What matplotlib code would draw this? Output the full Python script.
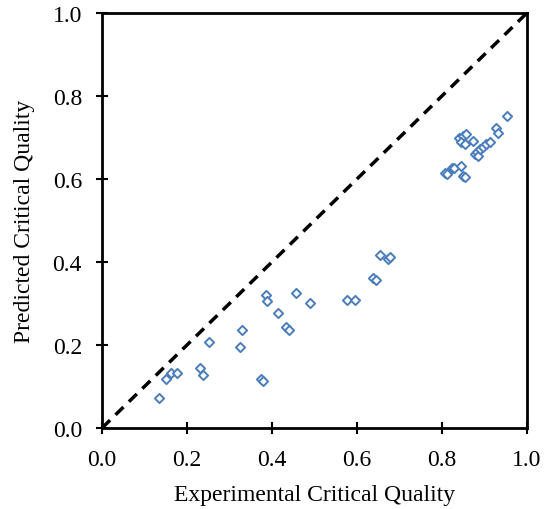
import matplotlib
matplotlib.use('Agg')
import matplotlib.pyplot as plt

# Experimental vs predicted critical quality
x_exp = [0.133, 0.150, 0.162, 0.177, 0.231, 0.237, 0.252, 0.324, 0.329, 0.373,
         0.379, 0.386, 0.389, 0.413, 0.432, 0.440, 0.456, 0.489, 0.577, 0.595,
         0.637, 0.644, 0.654, 0.674, 0.678,
         0.807, 0.811, 0.823, 0.828, 0.846, 0.850, 0.855, 0.841, 0.850, 0.856,
         0.846, 0.854, 0.874, 0.878, 0.882, 0.884, 0.889, 0.896, 0.904, 0.913,
         0.927, 0.933, 0.954]
y_pred = [0.072, 0.118, 0.133, 0.133, 0.145, 0.128, 0.208, 0.194, 0.236, 0.117,
          0.113, 0.320, 0.306, 0.278, 0.243, 0.236, 0.324, 0.301, 0.309, 0.309,
          0.361, 0.357, 0.417, 0.408, 0.412,
          0.614, 0.612, 0.626, 0.627, 0.632, 0.606, 0.604, 0.699, 0.704, 0.709,
          0.690, 0.684, 0.692, 0.660, 0.664, 0.656, 0.672, 0.676, 0.684, 0.690,
          0.722, 0.712, 0.753]
ticks = [0.0, 0.2, 0.4, 0.6, 0.8, 1.0]

plt.rcParams['font.family'] = ['Liberation Serif', 'DejaVu Serif']

fig = plt.figure(figsize=(5.46, 5.10), dpi=100)
ax = fig.add_axes([0.187, 0.159, 0.778, 0.8135])

ax.plot([0, 1], [0, 1], color='black', linestyle=(0, (3.2, 2.2)), linewidth=2.5, zorder=2)
ax.scatter(x_exp, y_pred, marker='D', s=22, facecolors='white', edgecolors='#4a7ebb',
           linewidths=1.4, zorder=3)

ax.set_xlim(0, 1)
ax.set_ylim(0, 1)
ax.set_xticks(ticks)
ax.set_yticks(ticks)
ax.set_xticklabels([f'{t:.1f}' for t in ticks])
ax.set_yticklabels([f'{t:.1f}' for t in ticks])
ax.tick_params(direction='inout', length=9, width=1.5, labelsize=17)
ax.tick_params(axis='x', pad=11)
ax.tick_params(axis='y', pad=10)
for s in ax.spines.values():
    s.set_linewidth(2)

ax.set_xlabel('Experimental Critical Quality', fontsize=17, labelpad=10)
ax.set_ylabel('Predicted Critical Quality', fontsize=17, labelpad=13)

fig.savefig('out.png', dpi=100)
